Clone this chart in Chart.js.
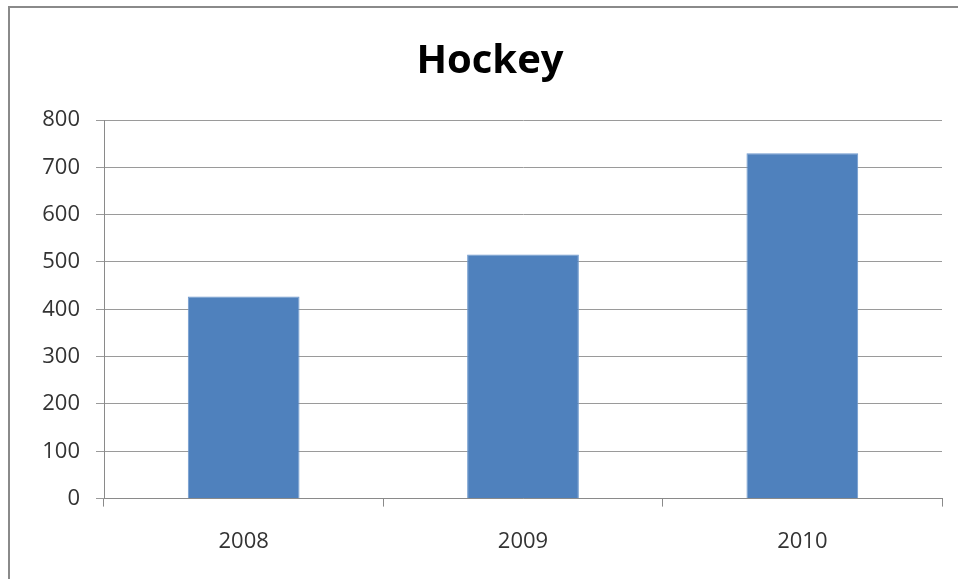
<!DOCTYPE html>
<html>
<head>
<meta charset="utf-8">
<script src="https://cdn.jsdelivr.net/npm/chart.js@4.4.0/dist/chart.umd.min.js"></script>
<style>
  body { margin: 0; background: #fff; }
  #wrap { position: relative; width: 958px; height: 579px; }
  #frame {
    position: absolute; left: 8px; top: 6px; right: 0; bottom: 0;
    border-top: 2px solid #8a8a8a; border-left: 2px solid #8a8a8a;
  }
  #hockeyChart { position: absolute; left: 0; top: 0; }
</style>
</head>
<body>
<div id="wrap">
  <div id="frame"></div>
  <canvas id="hockeyChart" width="958" height="579"></canvas>
</div>
<script>
const years = ["2008", "2009", "2010"];
const hockey = [427, 516, 730];
const yTicks = [0, 100, 200, 300, 400, 500, 600, 700, 800];

const ctx = document.getElementById("hockeyChart");

new Chart(ctx, {
  type: "bar",
  data: {
    labels: years,
    datasets: [
      {
        label: "Hockey",
        data: hockey,
        backgroundColor: "#4F81BD",
        borderColor: "#6F99CD",
        borderWidth: 1,
        barPercentage: 0.4,
        categoryPercentage: 1,
      },
    ],
  },
  options: {
    responsive: false,
    animation: false,
    layout: {
      padding: { left: 38, right: 16, top: 0, bottom: 2 },
    },
    plugins: {
      legend: { display: false },
      tooltip: { enabled: false },
      title: {
        display: true,
        text: "Hockey",
        color: "#000",
        font: { family: "Open Sans", size: 40, weight: "bold" },
        padding: { top: 38, bottom: 34 },
      },
    },
    scales: {
      x: {
        grid: {
          offset: true,
          drawOnChartArea: false,
          drawTicks: true,
          tickLength: 8,
          color: "#8a8a8a",
        },
        border: { color: "#8a8a8a", width: 1 },
        ticks: {
          color: "#333",
          padding: 22,
          font: { family: "Open Sans", size: 22 },
        },
      },
      y: {
        min: 0,
        max: yTicks[yTicks.length - 1],
        afterFit: (scale) => { scale.width = 66; },
        afterBuildTicks: (scale) => { scale.ticks = yTicks.map((v) => ({ value: v })); },
        grid: {
          color: "#9a9a9a",
          tickLength: 8,
        },
        border: { color: "#8a8a8a", width: 1 },
        ticks: {
          color: "#333",
          padding: 16,
          font: { family: "Open Sans", size: 22 },
        },
      },
    },
  },
});
</script>
</body>
</html>
